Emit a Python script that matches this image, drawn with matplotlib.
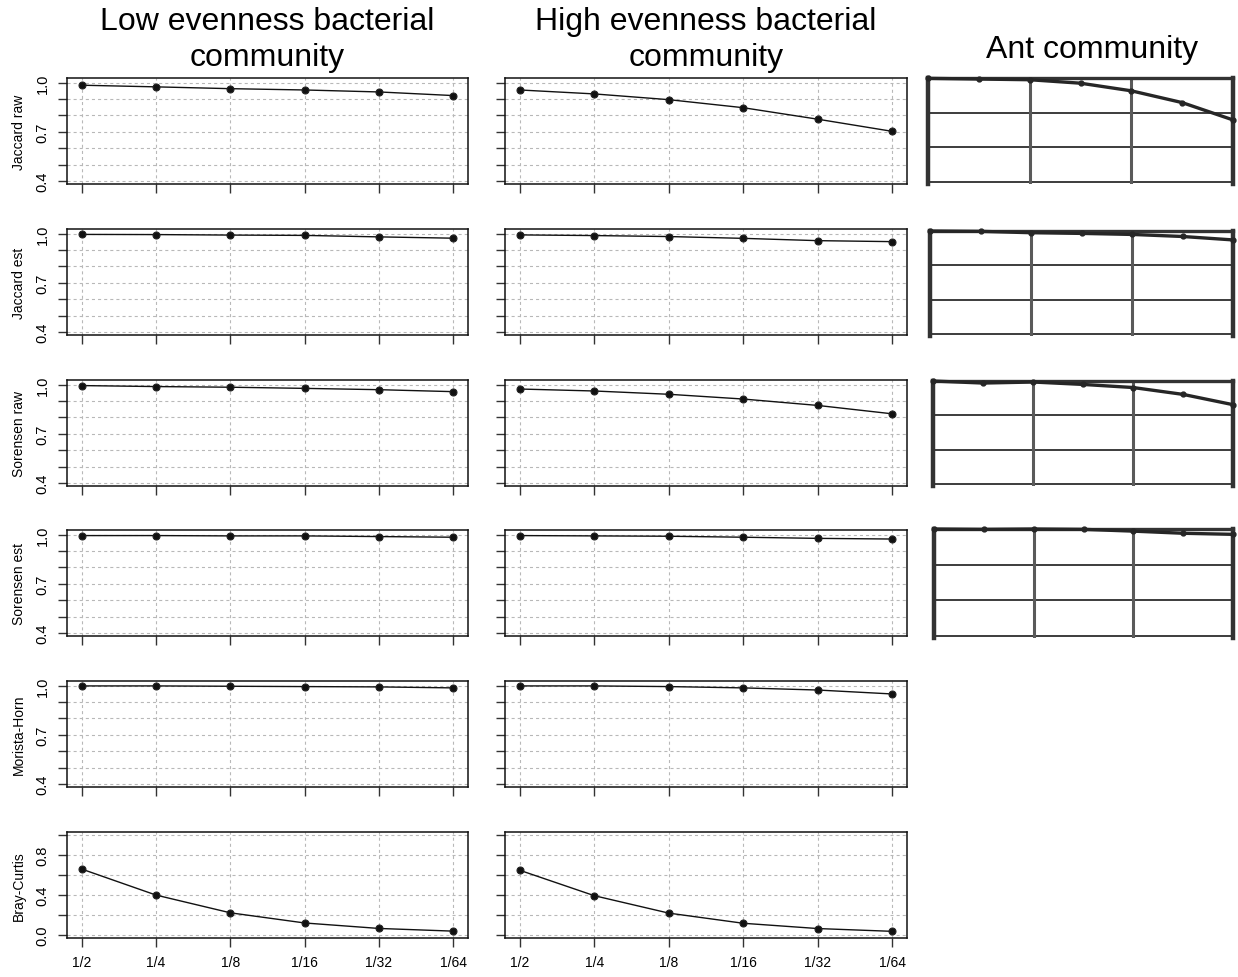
import matplotlib
matplotlib.use('Agg')
import matplotlib.pyplot as plt

plt.rcParams['font.family'] = ['Liberation Sans', 'DejaVu Sans']

W, H = 1238, 978

# subsampling fractions on the x axis
fractions = ['1/2', '1/4', '1/8', '1/16', '1/32', '1/64']
measures = ['Jaccard raw', 'Jaccard est', 'Sorensen raw', 'Sorensen est',
            'Morista-Horn', 'Bray-Curtis']

# low evenness bacterial community
low_jaccard_raw = [0.984, 0.974, 0.963, 0.955, 0.943, 0.921]
low_jaccard_est = [0.995, 0.994, 0.991, 0.989, 0.980, 0.972]
low_sorensen_raw = [0.994, 0.988, 0.984, 0.977, 0.969, 0.957]
low_sorensen_est = [0.994, 0.994, 0.992, 0.992, 0.988, 0.984]
low_morisita = [0.998, 0.998, 0.996, 0.994, 0.992, 0.986]
low_bray = [0.657, 0.396, 0.218, 0.116, 0.061, 0.034]

# high evenness bacterial community
high_jaccard_raw = [0.955, 0.931, 0.896, 0.847, 0.777, 0.703]
high_jaccard_est = [0.992, 0.988, 0.982, 0.971, 0.957, 0.951]
high_sorensen_raw = [0.973, 0.961, 0.941, 0.912, 0.873, 0.822]
high_sorensen_est = [0.994, 0.992, 0.990, 0.984, 0.977, 0.973]
high_morisita = [0.998, 0.998, 0.994, 0.986, 0.973, 0.949]
high_bray = [0.645, 0.390, 0.215, 0.113, 0.060, 0.032]

# ant community (pasted panels, 7 steps)
ant_steps = [1, 2, 3, 4, 5, 6, 7]
ant_jaccard_raw = [0.999, 0.997, 0.995, 0.985, 0.963, 0.929, 0.879]
ant_jaccard_est = [1.0, 0.999, 0.995, 0.993, 0.990, 0.984, 0.974]
ant_sorensen_raw = [1.0, 0.994, 0.997, 0.990, 0.981, 0.961, 0.931]
ant_sorensen_est = [1.0, 0.999, 1.0, 0.999, 0.994, 0.988, 0.985]

low_cols = [low_jaccard_raw, low_jaccard_est, low_sorensen_raw,
            low_sorensen_est, low_morisita, low_bray]
high_cols = [high_jaccard_raw, high_jaccard_est, high_sorensen_raw,
             high_sorensen_est, high_morisita, high_bray]
ant_cols = [ant_jaccard_raw, ant_jaccard_est, ant_sorensen_raw, ant_sorensen_est]


def box(x0, y0, x1, y1):
    return [x0 / W, 1 - y1 / H, (x1 - x0) / W, (y1 - y0) / H]


fig = plt.figure(figsize=(W / 100, H / 100), dpi=100)

row_tops = [79, 230, 381, 531, 682, 833]
col_x = [(67, 468), (505, 907)]
xs = list(range(1, 7))

for ci, (data, (x0, x1)) in enumerate(zip([low_cols, high_cols], col_x)):
    for ri, vals in enumerate(data):
        top = row_tops[ri]
        ax = fig.add_axes(box(x0, top, x1, top + 106))
        ax.plot(xs, vals, color='#111111', lw=1.0, marker='o', ms=5,
                mfc='#111111', mec='#222222', mew=0.8, zorder=3)
        ax.set_xlim(0.8, 6.2)
        if ri == 5:
            yt = [0.0, 0.2, 0.4, 0.6, 0.8, 1.0]
            ylab = ['0.0', '', '0.4', '', '0.8', '']
            ax.set_ylim(-0.035, 1.03)
        else:
            yt = [0.4, 0.5, 0.6, 0.7, 0.8, 0.9, 1.0]
            ylab = ['0.4', '', '', '0.7', '', '', '1.0']
            ax.set_ylim(0.382, 1.028)
        ax.set_yticks(yt)
        ax.set_xticks(xs)
        if ci == 0:
            ax.set_yticklabels(ylab, rotation=90, va='center', fontsize=10.5)
            ax.set_ylabel(measures[ri], fontsize=10, labelpad=7)
        else:
            ax.set_yticklabels([])
        if ri == 5:
            ax.set_xticklabels(fractions, fontsize=10)
        else:
            ax.set_xticklabels([])
        ax.grid(True, color='#b8b8b8', lw=0.8, linestyle=(0, (2.75, 2.75)))
        ax.set_axisbelow(True)
        ax.tick_params(direction='out', length=6.5, width=1.0, color='#333333',
                       pad=6)
        for s in ax.spines.values():
            s.set_linewidth(1.1)
            s.set_color('#111111')

# ant community panels
ant_tops = [79, 232, 382, 530]
ant_bottoms = [185, 337, 487, 639]
ant_lefts = [928, 930, 933, 934]
for vals, t, b, l in zip(ant_cols, ant_tops, ant_bottoms, ant_lefts):
    ax = fig.add_axes(box(l, t, 1233, b))
    ax.set_xlim(1, 7)
    ax.set_ylim(0.694, 1.0)
    for yv in [0.9, 0.8, 0.7]:
        ax.axhline(yv, color='#3c3c3c', lw=1.4, zorder=1)
    for xv in [3, 5]:
        ax.axvline(xv, color='#5a5a5a', lw=2.2, zorder=1)
    ax.plot(ant_steps, vals, color='#262626', lw=2.4, marker='o', ms=3.5,
            zorder=3, clip_on=False)
    ax.set_xticks([])
    ax.set_yticks([])
    ax.spines['bottom'].set_visible(False)
    ax.spines['left'].set_linewidth(3.2)
    ax.spines['right'].set_linewidth(3.2)
    ax.spines['top'].set_linewidth(2.4)
    for s in ax.spines.values():
        s.set_color('#333333')

fig.text(267 / W, 1 - 40 / H, 'Low evenness bacterial\ncommunity',
         ha='center', va='center', fontsize=23, linespacing=1.3)
fig.text(706 / W, 1 - 40 / H, 'High evenness bacterial\ncommunity',
         ha='center', va='center', fontsize=23, linespacing=1.3)
fig.text(1092 / W, 1 - 50 / H, 'Ant community',
         ha='center', va='center', fontsize=23)

fig.savefig('out.png', dpi=100)
